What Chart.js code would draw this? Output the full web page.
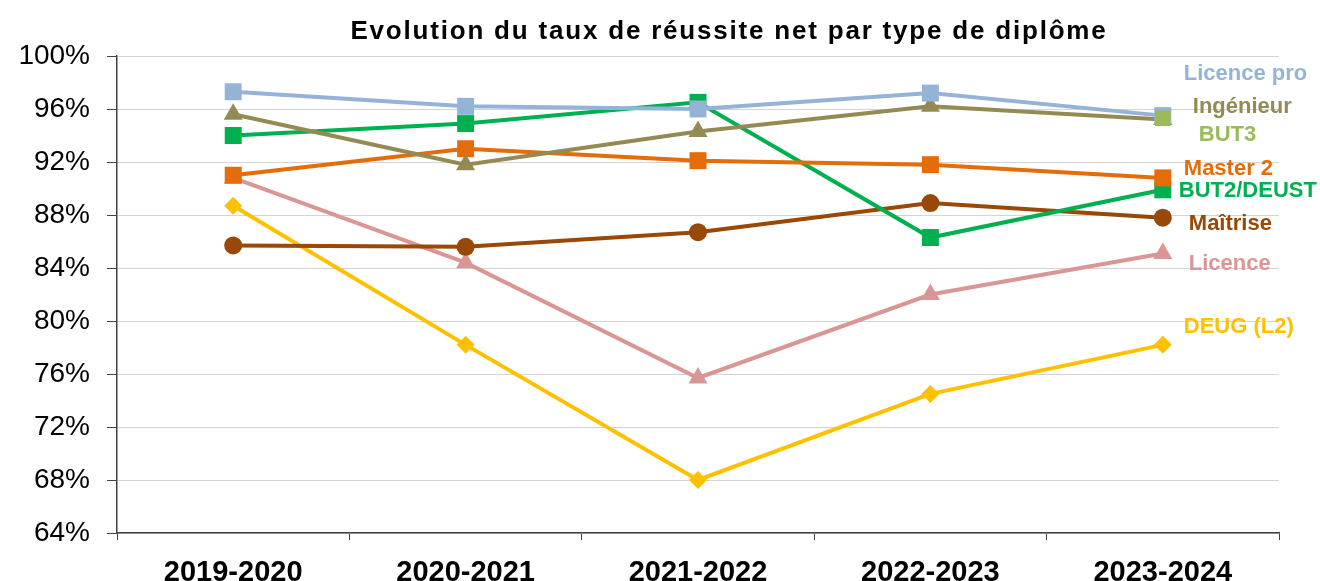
<!DOCTYPE html>
<html>
<head>
<meta charset="utf-8">
<script src="https://cdn.jsdelivr.net/npm/chart.js@4"></script>
<style>
  html, body { margin: 0; padding: 0; background: #fff; }
  #wrap { width: 1320px; height: 581px; }
</style>
</head>
<body>
<div id="wrap"><canvas id="my-canvas" width="1320" height="581"></canvas></div>
<script>
const years = ["2019-2020", "2020-2021", "2021-2022", "2022-2023", "2023-2024"]

const licencePro = [97.3, 96.2, 96.0, 97.2, 95.5]
const ingenieur = [95.6, 91.8, 94.3, 96.2, 95.2]
const but3 = [null, null, null, null, 95.3]
const master2 = [91.0, 93.0, 92.1, 91.8, 90.8]
const but2Deust = [94.0, 94.9, 96.5, 86.3, 89.9]
const maitrise = [85.7, 85.6, 86.7, 88.9, 87.8]
const licence = [90.8, 84.4, 75.7, 82.0, 85.1]
const deug = [88.7, 78.2, 68.0, 74.5, 78.2]

const yTicks = [64, 68, 72, 76, 80, 84, 88, 92, 96, 100]

const title = "Evolution du taux de réussite net par type de diplôme"

window.onload = () => {
    const ctx = document.querySelector("#my-canvas").getContext('2d')

    const serie = (label, data, color, style, radius, dx, dy, order) => ({
        label: label,
        data: data,
        borderColor: color,
        backgroundColor: color,
        borderWidth: 4,
        pointStyle: style,
        pointRadius: radius,
        pointBorderWidth: 0,
        tension: 0,
        spanGaps: false,
        order: order || 0,
        endLabel: { dx: dx, dy: dy }
    })

    const endLabels = {
        id: 'endLabels',
        afterDatasetsDraw(chart) {
            const c = chart.ctx
            c.save()
            c.font = "bold 22px 'Liberation Sans', Arial, sans-serif"
            c.textBaseline = 'middle'
            c.textAlign = 'left'
            chart.data.datasets.forEach((ds, i) => {
                const pts = chart.getDatasetMeta(i).data
                let last = null
                pts.forEach((p, j) => { if (ds.data[j] !== null) last = p })
                if (!last) return
                c.fillStyle = ds.borderColor
                c.fillText(ds.label, last.x + ds.endLabel.dx, last.y + ds.endLabel.dy)
            })
            c.restore()
        }
    }

    const drawTitle = {
        id: 'drawTitle',
        afterDraw(chart) {
            const c = chart.ctx
            c.save()
            c.font = "bold 26px 'Liberation Sans', Arial, sans-serif"
            c.letterSpacing = "1.8px"
            c.fillStyle = '#000'
            c.textAlign = 'center'
            c.textBaseline = 'alphabetic'
            c.fillText(title, 729, 39)
            c.restore()
        }
    }

    new Chart(ctx, {
        type: 'line',
        data: {
            labels: years,
            datasets: [
                serie("Licence pro", licencePro, '#95B3D7', 'rect', 12, 21, -42),
                serie("Ingénieur", ingenieur, '#948A54', 'triangle', 11, 30, -13),
                serie("BUT3", but3, '#9BBB59', 'rect', 11, 36, 17, -1),
                serie("Master 2", master2, '#E46C0A', 'rect', 12, 21, -9),
                serie("BUT2/DEUST", but2Deust, '#00B050', 'rect', 12, 16, 1),
                serie("Maîtrise", maitrise, '#984807', 'circle', 9, 26, 6),
                serie("Licence", licence, '#D99694', 'triangle', 11, 26, 11),
                serie("DEUG (L2)", deug, '#FFC000', 'rectRot', 9, 21, -18)
            ]
        },
        options: {
            responsive: false,
            animation: false,
            layout: { padding: { top: 56, right: 41, left: 0, bottom: 0 } },
            plugins: {
                legend: { display: false },
                tooltip: { enabled: false },
                title: { display: false }
            },
            scales: {
                x: {
                    offset: true,
                    grid: { drawOnChartArea: false, drawTicks: true, tickLength: 7, color: '#404040', offset: true },
                    border: { color: '#404040', width: 1.5 },
                    ticks: {
                        color: '#000',
                        padding: 16,
                        maxRotation: 0,
                        font: { family: "'Liberation Sans', Arial, sans-serif", size: 29, weight: 'bold' }
                    },
                    afterFit: (scale) => { scale.height = 48 }
                },
                y: {
                    min: 64,
                    max: 100,
                    afterBuildTicks: (scale) => { scale.ticks = yTicks.map(v => ({ value: v })) },
                    grid: { color: '#d4d4d4', lineWidth: 1, tickLength: 10, tickColor: '#404040' },
                    border: { color: '#404040', width: 1.5 },
                    ticks: {
                        color: '#000',
                        padding: 17,
                        callback: (v) => v + '%',
                        font: { family: "'Liberation Sans', Arial, sans-serif", size: 28 }
                    },
                    afterFit: (scale) => { scale.width = 117 }
                }
            }
        },
        plugins: [endLabels, drawTitle]
    })
}
</script>
</body>
</html>
